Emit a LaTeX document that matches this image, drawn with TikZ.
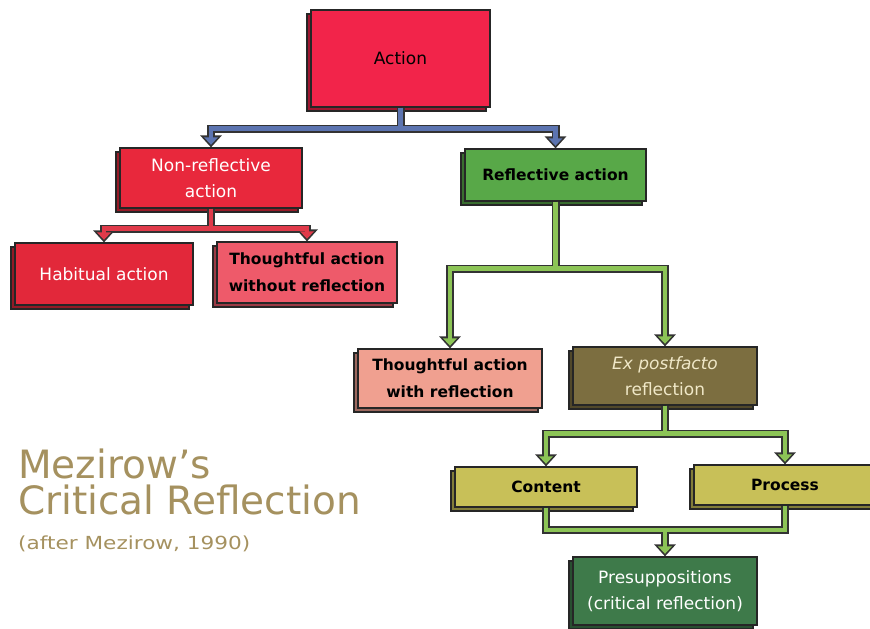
\documentclass[tikz,border=0pt]{standalone}
\usepackage{fontspec}
\setmainfont{DejaVu Sans}
\usetikzlibrary{arrows.meta,shadows}
\definecolor{actC}{HTML}{F2244A}
\definecolor{nonrefC}{HTML}{E8283C}
\definecolor{habitC}{HTML}{E2283A}
\definecolor{thwoC}{HTML}{EE5A6A}
\definecolor{reflC}{HTML}{58A848}
\definecolor{thwrC}{HTML}{F0A090}
\definecolor{expfC}{HTML}{7C6E40}
\definecolor{contC}{HTML}{C8C058}
\definecolor{presC}{HTML}{3E7A4A}
\definecolor{blueC}{HTML}{5C74B0}
\definecolor{redC}{HTML}{E03A4A}
\definecolor{greenC}{HTML}{8CC456}
\definecolor{creamC}{HTML}{F0E8C8}
\definecolor{tanC}{RGB}{165,145,95}
\newcommand\congroup[2]{%
  \tikzset{cstyle/.style={conout}}#2%
  \tikzset{cstyle/.style={conin=#1}}#2}
\begin{document}
\begin{tikzpicture}[x=1pt,y=-1pt,
  box/.style={draw=black!85, line width=1.2pt, fill=#1, inner sep=0pt, align=center,
    general shadow={shadow xshift=-4pt, shadow yshift=-4pt, fill=#1!65!black, draw=black!85, line width=1.2pt}},
  rfont/.style={font=\fontsize{17}{26}\selectfont},
  bfont/.style={font=\fontsize{15.5}{27}\selectfont\bfseries},
  conout/.style={line width=8pt, draw=black!80, -{Triangle[length=12pt,width=21pt]}},
  conin/.style={line width=4.5pt, draw=#1, -{Triangle[length=7.5pt,width=13.5pt]}, shorten >=2.6pt},
  ]
\useasboundingbox (0,0) rectangle (870,629);
\clip (0,0) rectangle (870,629);

\node[box=actC, rfont, minimum width=179pt, minimum height=97pt] (act) at (400.5,58.5) {Action};
\node[box=nonrefC, rfont, text=white, minimum width=182pt, minimum height=60pt] (nonref) at (211,178) {Non-reflective\\action};
\node[box=habitC, rfont, text=white, minimum width=178pt, minimum height=62pt] (habit) at (104,274) {Habitual action};
\node[box=thwoC, bfont, minimum width=180pt, minimum height=61pt] (thwo) at (307,272.5) {Thoughtful action\\without reflection};
\node[box=reflC, bfont, minimum width=181pt, minimum height=52pt] (refl) at (555.5,175) {Reflective action};
\node[box=thwrC, bfont, minimum width=184pt, minimum height=59pt] (thwr) at (450,378.5) {Thoughtful action\\with reflection};
\node[box=expfC, rfont, text=creamC, minimum width=184pt, minimum height=58pt] (expf) at (665,376) {{\itshape Ex postfacto}\\reflection};
\node[box=contC, bfont, minimum width=182pt, minimum height=40pt] (content) at (546,487) {Content};
\node[box=contC, bfont, minimum width=182pt, minimum height=40pt] (process) at (785,485) {Process};
\node[box=presC, rfont, text=white, minimum width=184pt, minimum height=68pt] (presup) at (665,591) {Presuppositions\\(critical reflection)};

\congroup{blueC}{%
  \draw[cstyle] (act.south) -- ++(0,21) -| (nonref.north);
  \draw[cstyle] (act.south) -- ++(0,21) -| (refl.north);}
\congroup{redC}{%
  \draw[cstyle] (nonref.south) -- ++(0,20) -| (habit.north);
  \draw[cstyle] (nonref.south) -- ++(0,20) -| (thwo.north);}
\congroup{greenC}{%
  \draw[cstyle] (refl.south) -- ++(0,67) -| (thwr.north);
  \draw[cstyle] (refl.south) -- ++(0,67) -| (expf.north);}
\congroup{greenC}{%
  \draw[cstyle] (expf.south) -- ++(0,28) -| (content.north);
  \draw[cstyle] (expf.south) -- ++(0,28) -| (process.north);}
\coordinate (mrg) at (presup.north |- 0,530);
\congroup{greenC}{%
  \draw[cstyle, -, shorten >=0pt] (content.south) |- (mrg) -| (process.south);
  \draw[cstyle] (mrg) -- (presup.north);}

\node[anchor=base west, text=tanC, font=\fontsize{39}{40}\selectfont, inner sep=0pt, text depth=0pt] (t1) at (18,478) {Mezirow’s};
\node[anchor=base west, text=tanC, font=\fontsize{39}{40}\selectfont, inner sep=0pt, text height=28pt] (t2) at (18,514) {Critical Reflection};
\node[anchor=base west, text=tanC, font=\fontsize{18}{20}\selectfont, inner sep=0pt] (t3) at (18,549) {\scalebox{1.2}[1]{(after Mezirow, 1990)}};
\end{tikzpicture}
\end{document}
